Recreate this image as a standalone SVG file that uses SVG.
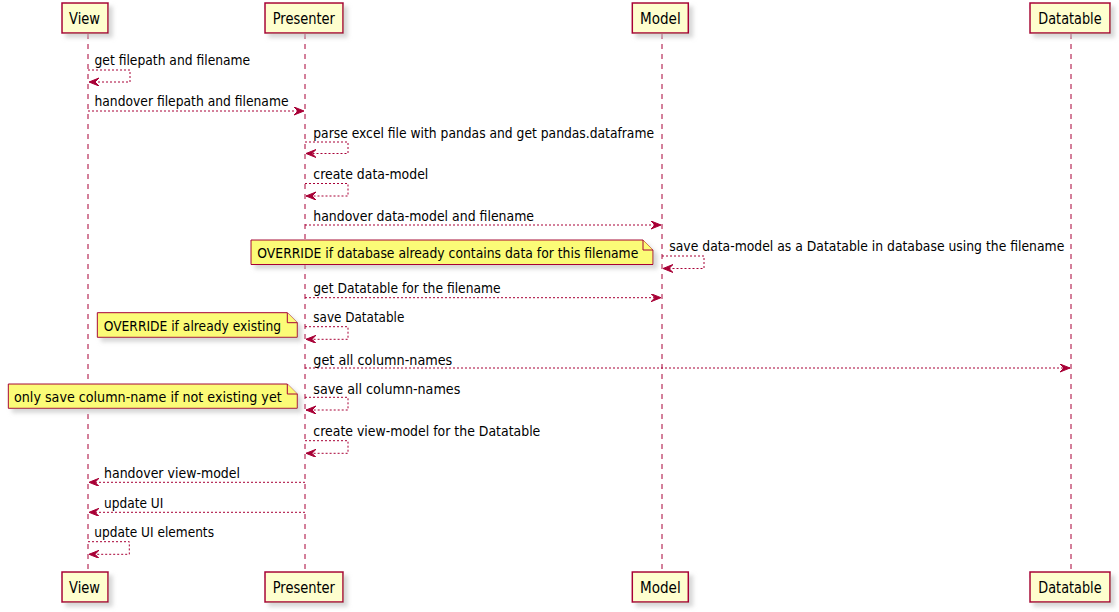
<svg xmlns="http://www.w3.org/2000/svg" width="1119" height="612" viewBox="0 0 1119 612">
<style>
.part{fill:#FEFECE;stroke:#A80036;stroke-width:1.5}
.note{fill:#FBFB77;stroke:#A80036;stroke-width:1}
.life{stroke:#A80036;stroke-width:1;stroke-dasharray:5,5;fill:none}
.msg{stroke:#A80036;stroke-width:1;stroke-dasharray:2,2;fill:none}
text{font-family:"DejaVu Sans","Liberation Sans",sans-serif;fill:#000}
.pt{font-size:15px}
.mt{font-size:13.5px}
</style>
<defs>
<filter id="sh" x="-20%" y="-20%" width="150%" height="160%">
<feGaussianBlur in="SourceAlpha" stdDeviation="2"/>
<feOffset dx="4" dy="4" result="b"/>
<feColorMatrix in="b" type="matrix" values="0 0 0 0 0.5  0 0 0 0 0.5  0 0 0 0 0.5  0 0 0 0.6 0" result="c"/>
<feMerge><feMergeNode in="c"/><feMergeNode in="SourceGraphic"/></feMerge>
</filter>
<marker id="ah" markerWidth="12" markerHeight="10" refX="10" refY="4" orient="auto" markerUnits="userSpaceOnUse">
<polygon points="0,0 10,4 0,8 4,4" fill="#A80036" stroke="#A80036" stroke-width="1"/>
</marker>
</defs>

<g id="lifelines">
<line class="life" x1="88" y1="34" x2="88" y2="572"/>
<line class="life" x1="305" y1="34" x2="305" y2="572"/>
<line class="life" x1="662" y1="34" x2="662" y2="572"/>
<line class="life" x1="1071" y1="34" x2="1071" y2="572"/>
</g>

<g id="View">
<rect class="part" x="62" y="3" width="46" height="30" filter="url(#sh)"/>
<text class="pt" x="69" y="23.5" textLength="31" lengthAdjust="spacingAndGlyphs">View</text>
<rect class="part" x="62" y="572" width="46" height="30" filter="url(#sh)"/>
<text class="pt" x="69" y="592.5" textLength="31" lengthAdjust="spacingAndGlyphs">View</text>
</g>
<g id="Presenter">
<rect class="part" x="265" y="3" width="78" height="30" filter="url(#sh)"/>
<text class="pt" x="272.7" y="23.5" textLength="62.3" lengthAdjust="spacingAndGlyphs">Presenter</text>
<rect class="part" x="265" y="572" width="78" height="30" filter="url(#sh)"/>
<text class="pt" x="272.7" y="592.5" textLength="62.3" lengthAdjust="spacingAndGlyphs">Presenter</text>
</g>
<g id="Model">
<rect class="part" x="632.3" y="3" width="56" height="30" filter="url(#sh)"/>
<text class="pt" x="640" y="23.5" textLength="40.7" lengthAdjust="spacingAndGlyphs">Model</text>
<rect class="part" x="632.3" y="572" width="56" height="30" filter="url(#sh)"/>
<text class="pt" x="640" y="592.5" textLength="40.7" lengthAdjust="spacingAndGlyphs">Model</text>
</g>
<g id="Datatable">
<rect class="part" x="1030" y="3" width="80" height="30" filter="url(#sh)"/>
<text class="pt" x="1038.3" y="23.5" textLength="63.3" lengthAdjust="spacingAndGlyphs">Datatable</text>
<rect class="part" x="1030" y="572" width="80" height="30" filter="url(#sh)"/>
<text class="pt" x="1038.3" y="592.5" textLength="63.3" lengthAdjust="spacingAndGlyphs">Datatable</text>
</g>

<g id="note1">
<path class="note" d="M251,240 H643 L653,250 V264.5 H251 Z" filter="url(#sh)"/>
<path class="note" d="M643,240 V250 H653"/>
<text class="mt" x="257.3" y="258" textLength="381" lengthAdjust="spacingAndGlyphs">OVERRIDE if database already contains data for this filename</text>
</g>
<g id="note2">
<path class="note" d="M97.3,312.7 H287.3 L297.3,322.7 V337.3 H97.3 Z" filter="url(#sh)"/>
<path class="note" d="M287.3,312.7 V322.7 H297.3"/>
<text class="mt" x="103.7" y="330.5" textLength="177.3" lengthAdjust="spacingAndGlyphs">OVERRIDE if already existing</text>
</g>
<g id="note3">
<path class="note" d="M8.3,384 H287.3 L297.3,394 V408.3 H8.3 Z" filter="url(#sh)"/>
<path class="note" d="M287.3,384 V394 H297.3"/>
<text class="mt" x="14" y="401.8" textLength="267.7" lengthAdjust="spacingAndGlyphs">only save column-name if not existing yet</text>
</g>

<g id="connectors">
<polyline class="msg" points="88,70 130,70 130,82 89,82" marker-end="url(#ah)"/>
<line class="msg" x1="88" y1="111" x2="304" y2="111" marker-end="url(#ah)"/>
<polyline class="msg" points="305,142 348,142 348,153.5 306,153.5" marker-end="url(#ah)"/>
<polyline class="msg" points="305,183.5 348,183.5 348,196 306,196" marker-end="url(#ah)"/>
<line class="msg" x1="305" y1="225" x2="661" y2="225" marker-end="url(#ah)"/>
<polyline class="msg" points="662,256 704,256 704,268.5 663,268.5" marker-end="url(#ah)"/>
<line class="msg" x1="305" y1="297.7" x2="661" y2="297.7" marker-end="url(#ah)"/>
<polyline class="msg" points="305,326.7 348,326.7 348,339.3 306,339.3" marker-end="url(#ah)"/>
<line class="msg" x1="305" y1="368" x2="1070" y2="368" marker-end="url(#ah)"/>
<polyline class="msg" points="305,397.3 348,397.3 348,410 306,410" marker-end="url(#ah)"/>
<polyline class="msg" points="305,440.7 348,440.7 348,453.3 306,453.3" marker-end="url(#ah)"/>
<line class="msg" x1="305" y1="482.3" x2="89" y2="482.3" marker-end="url(#ah)"/>
<line class="msg" x1="305" y1="512.3" x2="89" y2="512.3" marker-end="url(#ah)"/>
<polyline class="msg" points="88,541.7 129.3,541.7 129.3,554.3 89,554.3" marker-end="url(#ah)"/>
</g>

<g id="labels">
<text class="mt" x="94.5" y="65" textLength="155.7" lengthAdjust="spacingAndGlyphs">get filepath and filename</text>
<text class="mt" x="94.5" y="106" textLength="194" lengthAdjust="spacingAndGlyphs">handover filepath and filename</text>
<text class="mt" x="313.3" y="137.5" textLength="340.7" lengthAdjust="spacingAndGlyphs">parse excel file with pandas and get pandas.dataframe</text>
<text class="mt" x="313.3" y="178.5" textLength="115" lengthAdjust="spacingAndGlyphs">create data-model</text>
<text class="mt" x="313.3" y="221" textLength="220.7" lengthAdjust="spacingAndGlyphs">handover data-model and filename</text>
<text class="mt" x="669.3" y="250.5" textLength="395" lengthAdjust="spacingAndGlyphs">save data-model as a Datatable in database using the filename</text>
<text class="mt" x="313.3" y="292.5" textLength="187.3" lengthAdjust="spacingAndGlyphs">get Datatable for the filename</text>
<text class="mt" x="313.3" y="322" textLength="91" lengthAdjust="spacingAndGlyphs">save Datatable</text>
<text class="mt" x="313.3" y="364.5" textLength="139" lengthAdjust="spacingAndGlyphs">get all column-names</text>
<text class="mt" x="313.3" y="393.5" textLength="147" lengthAdjust="spacingAndGlyphs">save all column-names</text>
<text class="mt" x="313.3" y="436" textLength="227" lengthAdjust="spacingAndGlyphs">create view-model for the Datatable</text>
<text class="mt" x="104" y="478" textLength="136" lengthAdjust="spacingAndGlyphs">handover view-model</text>
<text class="mt" x="104" y="508" textLength="59.3" lengthAdjust="spacingAndGlyphs">update UI</text>
<text class="mt" x="94.3" y="537" textLength="119.7" lengthAdjust="spacingAndGlyphs">update UI elements</text>
</g>
</svg>
